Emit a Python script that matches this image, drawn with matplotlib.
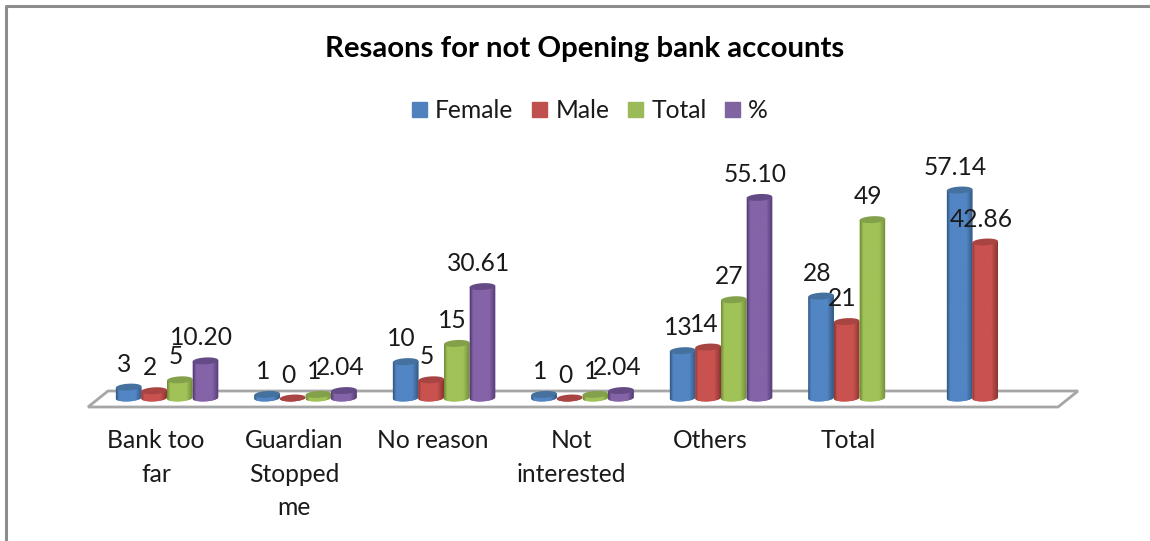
import numpy as np
import matplotlib
matplotlib.use("Agg")
import matplotlib.pyplot as plt
from matplotlib.patches import Patch, Polygon
from matplotlib.colors import LinearSegmentedColormap

plt.rcParams['font.family'] = ['Lato', 'DejaVu Sans']

# Chart data
categories = ["Bank too\nfar", "Guardian\nStopped\nme", "No reason", "Not\ninterested", "Others", "Total", ""]
female = [3, 1, 10, 1, 13, 28, 57.14]
male = [2, 0, 5, 0, 14, 21, 42.86]
total = [5, 1, 15, 1, 27, 49, None]
percent = [10.20, 2.04, 30.61, 2.04, 55.10, None, None]
series_names = ["Female", "Male", "Total", "%"]
title = "Resaons for not Opening bank accounts"

series = [female, male, total, percent]
# (edge, highlight, cap) shades per series
palette = [("#34587f", "#5285c4", "#45719f"),
           ("#8a3432", "#c9524f", "#a84442"),
           ("#6f8a38", "#a0c257", "#83a04a"),
           ("#513a70", "#8563a8", "#654b85")]
legend_colors = ["#4f81bd", "#c0504d", "#9bbb59", "#8064a2"]

W, H = 1150, 541
fig = plt.figure(figsize=(W / 100, H / 100), dpi=100)
ax = fig.add_axes([0, 0, 1, 1])

# Value axis: 3.64 px per unit, category axis: 138.5 px per group
PX_Y = 3.64
PX_X = 138.5
X0, Y0 = 167.0, 398.0
ax.set_xlim(-X0 / PX_X, (W - X0) / PX_X)
ax.set_ylim(-(H - Y0) / PX_Y, Y0 / PX_Y)
ax.axis("off")

def px(dx):
    return dx / PX_X

def py(dy):
    return dy / PX_Y

# Outer chart border
ax.plot([px(6) - X0 / PX_X, px(6) - X0 / PX_X, px(1150) - X0 / PX_X],
        [-(H - Y0) / PX_Y, Y0 / PX_Y - py(6), Y0 / PX_Y - py(6)],
        color="#8c8c8c", lw=2.2, solid_capstyle="butt", zorder=1)

# Floor of the 3-D plot area
floor_x = [88, 108, 1078, 1058]
floor_y = [407, 391, 391, 407]
floor = Polygon([((a - X0) / PX_X, (Y0 - b) / PX_Y) for a, b in zip(floor_x, floor_y)],
                closed=True, facecolor="white", edgecolor="#a6a6a6", lw=2.0, zorder=2)
ax.add_patch(floor)

bar_w = 25.6 / PX_X
a, b, tilt = bar_w / 2, py(3.4), py(0.7)
t_low = np.linspace(np.pi, 2 * np.pi, 40)
t_all = np.linspace(0, 2 * np.pi, 80)
ramp = np.array([0.0, 0.12, 0.3, 0.5, 0.75, 1.0])
z = 3
for j, (vals, (edge, light, cap)) in enumerate(zip(series, palette)):
    cmap = LinearSegmentedColormap.from_list(
        "cyl", list(zip(ramp, [edge, light, light, light, light, edge])))
    for i, v in enumerate(vals):
        if v is None:
            continue
        xc = i + (j - 1.5) * bar_w
        # Cylinder body: bottom half-ellipse up to the rim at the value
        xs = np.r_[xc + a * np.cos(t_low), xc + a, xc - a]
        ys = np.r_[b * np.sin(t_low) + tilt * np.cos(t_low), v + tilt, v - tilt]
        body = Polygon(np.c_[xs, ys], closed=True, facecolor=light, edgecolor="none", zorder=z)
        ax.add_patch(body)
        grad = np.linspace(0, 1, 64)[None, :]
        im = ax.imshow(grad, cmap=cmap, extent=(xc - a, xc + a, -b - tilt, v + b + tilt),
                       aspect="auto", zorder=z, interpolation="bilinear")
        im.set_clip_path(body)
        # Top cap
        ax.fill(xc + a * np.cos(t_all), v + b * np.sin(t_all) + tilt * np.cos(t_all),
                facecolor=cap, edgecolor="none", zorder=z)
        z += 1
        label = f"{v:.0f}" if float(v).is_integer() else f"{v:.2f}"
        ax.annotate(label, (xc, v), xytext=(-3.0, 16.5), textcoords="offset points",
                    ha="center", va="center", fontsize=17.7, color="#1a1a1a", zorder=200)

# Restore limits after imshow
ax.set_xlim(-X0 / PX_X, (W - X0) / PX_X)
ax.set_ylim(-(H - Y0) / PX_Y, Y0 / PX_Y)

# Category labels
for i, c in enumerate(categories):
    ax.annotate(c, (i, 0), xytext=(-8.0, -22.5), textcoords="offset points",
                ha="center", va="top", fontsize=17.7, color="#1a1a1a",
                linespacing=1.55)

fig.text(585 / W, 1 - 49.5 / H, title, ha="center", va="center",
         fontsize=21.2, fontweight="bold", color="black")

handles = [Patch(facecolor=c, edgecolor=c, label=n) for c, n in zip(legend_colors, series_names)]
leg = fig.legend(handles=handles, loc="center", bbox_to_anchor=(590 / W, 1 - 110.5 / H),
                 ncol=4, frameon=False, fontsize=17.7, handlelength=0.6, handleheight=0.6,
                 handletextpad=0.35, columnspacing=0.75, labelcolor="#1a1a1a")

fig.savefig("out.png", dpi=100, facecolor="white")
